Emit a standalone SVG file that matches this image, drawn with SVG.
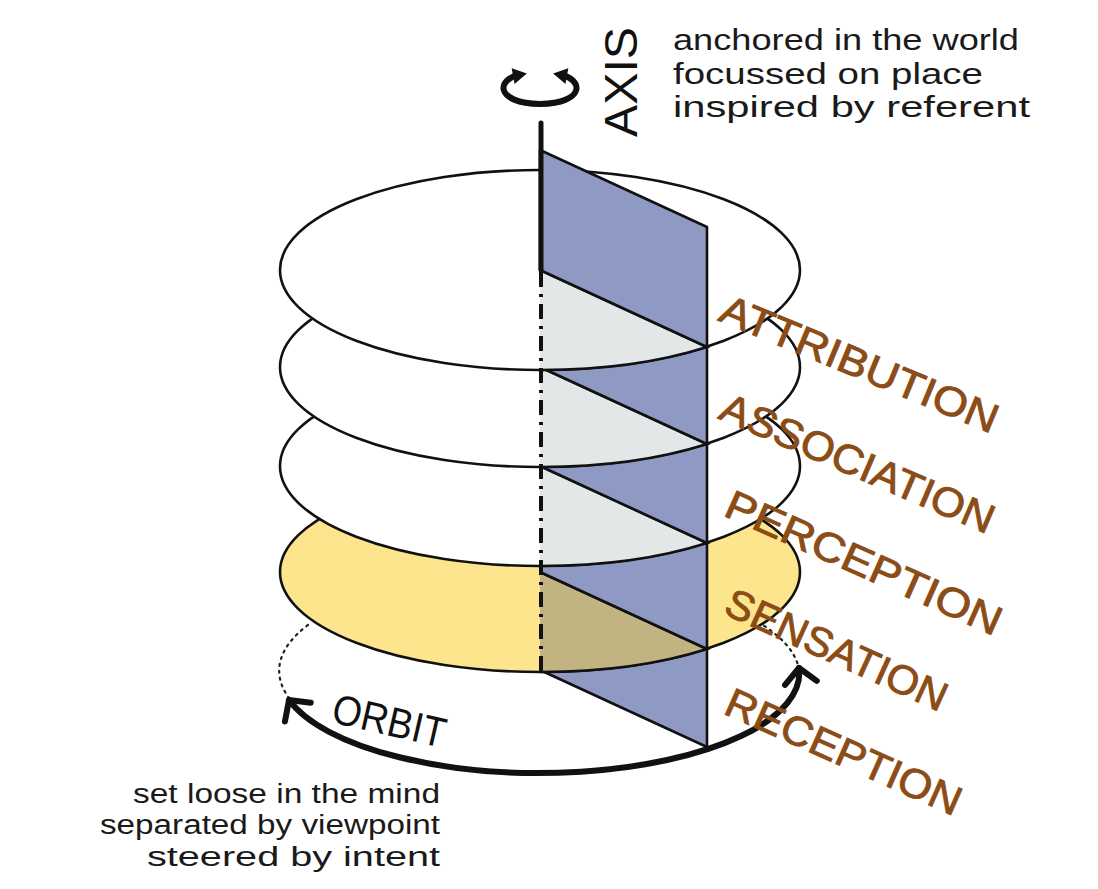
<svg xmlns="http://www.w3.org/2000/svg" width="1098" height="889" viewBox="0 0 1098 889">
<style>
.disk{stroke:#111;stroke-width:2.6;stroke-linejoin:round}
.white{fill:#ffffff}
.yellow{fill:#fce58c}
.plane{fill:#8f9ac4;stroke:#111;stroke-width:2.6;stroke-linejoin:round}
.grey{fill:#e4e7e7;stroke:#111;stroke-width:2.6}
.tan{fill:#c2b482;stroke:#111;stroke-width:2.6}
.dotted{fill:none;stroke:#222;stroke-width:2.2;stroke-dasharray:2 5;stroke-linecap:round}
.orbit{fill:none;stroke:#111;stroke-width:6;stroke-linecap:round}
.label{font-family:"Liberation Sans",Arial,sans-serif;font-size:41px;fill:#8b4c16;stroke:#8b4c16;stroke-width:0.9}
.note{font-family:"Liberation Sans",Arial,sans-serif;font-size:30px;fill:#1a1a1a}
.note2{font-family:"Liberation Sans",Arial,sans-serif;font-size:27px;fill:#1a1a1a}
.big{font-family:"Liberation Sans",Arial,sans-serif;fill:#111}
</style>
<defs>
<marker id="open" markerUnits="userSpaceOnUse" markerWidth="40" markerHeight="40" refX="0" refY="0" orient="auto-start-reverse" overflow="visible">
<path d="M -15 -16 L 0 0 L -15 16" fill="none" stroke="#111" stroke-width="6" stroke-linecap="round" stroke-linejoin="round"/>
</marker>
<marker id="solid" markerUnits="userSpaceOnUse" markerWidth="30" markerHeight="30" refX="0" refY="0" orient="auto-start-reverse" overflow="visible">
<path d="M -6 -8 L 8 0 L -6 8 Z" fill="#111"/>
</marker>
</defs>

<g id="orbit-back">
<path class="dotted" d="M 308 625 A 260 100 0 0 0 289 698"/>
<path class="dotted" d="M 758 622 A 260 100 0 0 1 798 665"/>
</g>

<g id="plane-bottom">
<path class="plane" d="M 540 572 L 707 649 L 707 747 L 540 670"/>
</g>

<g id="disk-sensation">
<ellipse class="disk yellow" cx="540" cy="572" rx="260" ry="100"/>
<path class="tan" d="M 540 572 L 707 649 A 260 100 0 0 1 540 672"/>
</g>

<g id="plane-4">
<path class="plane" d="M 540 466 L 707 543 L 707 649 L 540 572"/>
</g>

<g id="disk-perception">
<ellipse class="disk white" cx="540" cy="466" rx="260" ry="100"/>
<path class="grey" d="M 540 466 L 707 543 A 260 100 0 0 1 540 566"/>
</g>

<g id="plane-3">
<path class="plane" d="M 540 367 L 707 444 L 707 543 L 540 466"/>
</g>

<g id="disk-association">
<ellipse class="disk white" cx="540" cy="367" rx="260" ry="100"/>
<path class="grey" d="M 540 367 L 707 444 A 260 100 0 0 1 540 467"/>
</g>

<g id="plane-2">
<path class="plane" d="M 540 270 L 707 347 L 707 444 L 540 367"/>
</g>

<g id="disk-attribution">
<ellipse class="disk white" cx="540" cy="270" rx="260" ry="100"/>
<path class="grey" d="M 540 270 L 707 347 A 260 100 0 0 1 540 370"/>
</g>

<g id="plane-top">
<path class="plane" d="M 540 150 L 707 227 L 707 347 L 540 270 Z"/>
</g>

<g id="connectors">
<path class="orbit" d="M 289 700 A 260 100 0 0 0 799 668" marker-start="url(#open)" marker-end="url(#open)"/>
<line x1="541" y1="123" x2="541" y2="270" stroke="#111" stroke-width="5" stroke-linecap="round"/>
<line x1="541" y1="272" x2="541" y2="672" stroke="#111" stroke-width="4" stroke-dasharray="15 7 3 7"/>
<path d="M 519 75 C 497 79, 494 103, 540 104 C 586 103, 583 79, 561 75" fill="none" stroke="#111" stroke-width="6" marker-start="url(#solid)" marker-end="url(#solid)"/>
</g>

<g id="axis-label">
<text class="big" font-size="46" transform="translate(637,137) rotate(-90)" textLength="110" lengthAdjust="spacingAndGlyphs">AXIS</text>
</g>
<g id="axis-note">
<text class="note" x="673" y="50" textLength="346" lengthAdjust="spacingAndGlyphs">anchored in the world</text>
<text class="note" x="673" y="84" textLength="310" lengthAdjust="spacingAndGlyphs">focussed on place</text>
<text class="note" x="673" y="117" textLength="357" lengthAdjust="spacingAndGlyphs">inspired by referent</text>
</g>

<g id="orbit-label">
<text class="big" font-size="42" transform="translate(330,722) rotate(13)" textLength="115" lengthAdjust="spacingAndGlyphs">ORBIT</text>
</g>
<g id="orbit-note">
<text class="note2" x="440" y="803" text-anchor="end" textLength="307" lengthAdjust="spacingAndGlyphs">set loose in the mind</text>
<text class="note2" x="440" y="834" text-anchor="end" textLength="340" lengthAdjust="spacingAndGlyphs">separated by viewpoint</text>
<text class="note2" x="440" y="866" text-anchor="end" textLength="293" lengthAdjust="spacingAndGlyphs">steered by intent</text>
</g>

<g id="levels">
<text class="label" transform="translate(717,320) rotate(22.5)" textLength="297" lengthAdjust="spacingAndGlyphs">ATTRIBUTION</text>
<text class="label" transform="translate(717,418) rotate(23.3)" textLength="294" lengthAdjust="spacingAndGlyphs">ASSOCIATION</text>
<text class="label" transform="translate(722,515) rotate(24)" textLength="298" lengthAdjust="spacingAndGlyphs">PERCEPTION</text>
<text class="label" transform="translate(722,613) rotate(24.5)" textLength="239" lengthAdjust="spacingAndGlyphs">SENSATION</text>
<text class="label" transform="translate(722,713) rotate(24)" textLength="254" lengthAdjust="spacingAndGlyphs">RECEPTION</text>
</g>
</svg>
